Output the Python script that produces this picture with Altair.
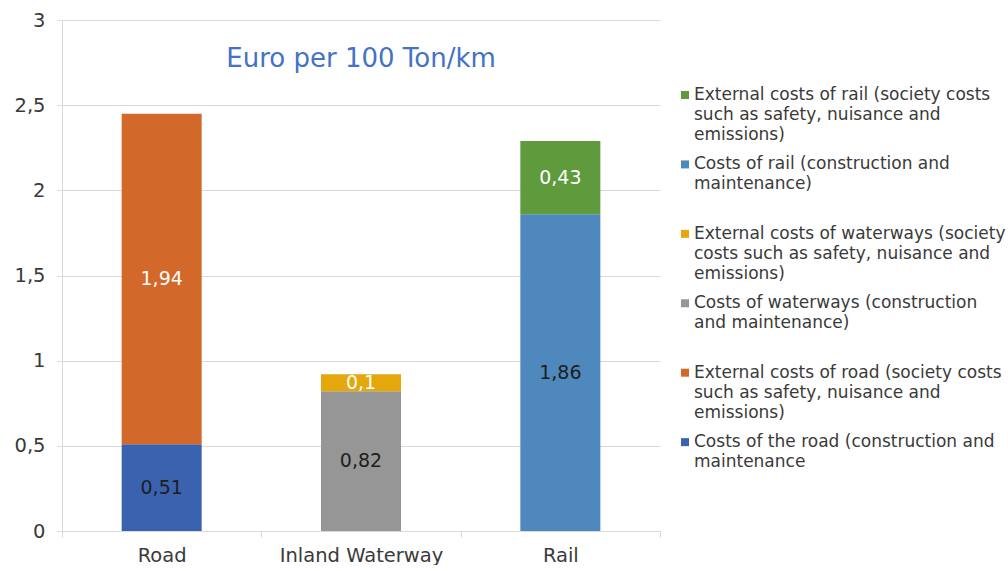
import altair as alt
import pandas as pd

# ---- data ----
categories = ["Road", "Inland Waterway", "Rail"]
modes = ["Road", "Road", "Inland Waterway", "Inland Waterway", "Rail", "Rail"]
series = [
    "Costs of the road (construction and maintenance",
    "External costs of road (society costs such as safety, nuisance and emissions)",
    "Costs of waterways (construction and maintenance)",
    "External costs of waterways (society costs such as safety, nuisance and emissions)",
    "Costs of rail (construction and maintenance)",
    "External costs of rail (society costs such as safety, nuisance and emissions)",
]
values = [0.51, 1.94, 0.82, 0.1, 1.86, 0.43]
stack_order = [0, 1, 0, 1, 0, 1]
colors = ["#3A62AE", "#D2692A", "#969696", "#E4A80C", "#4F88BC", "#5F9A3D"]
label_colors = ["#1E1E1E", "#FFFFFF", "#1E1E1E", "#FFFFFF", "#1E1E1E", "#FFFFFF"]

# legend (top to bottom), lines separated by "|"
legend_series = [series[5], series[4], series[3], series[2], series[1], series[0]]
legend_text = [
    "External costs of rail (society costs|such as safety, nuisance and|emissions)",
    "Costs of rail (construction and|maintenance)",
    "External costs of waterways (society|costs such as safety, nuisance and|emissions)",
    "Costs of waterways (construction|and maintenance)",
    "External costs of road (society costs|such as safety, nuisance and|emissions)",
    "Costs of the road (construction and|maintenance",
]

FONT = "DejaVu Sans"

df = pd.DataFrame({
    "mode": modes, "series": series, "value": values,
    "order": stack_order, "lc": label_colors,
})
df["start"] = df.groupby("mode")["value"].cumsum() - df["value"]
df["mid"] = df["start"] + df["value"] / 2
df["label"] = df["value"].map(lambda v: f"{v:g}".replace(".", ","))

color_scale = alt.Scale(domain=series, range=colors)
x_scale = alt.Scale(domain=categories, paddingInner=0, paddingOuter=0)

base = alt.Chart(df)

bars = base.mark_bar(size=80).encode(
    x=alt.X("mode:N", sort=categories, title=None, scale=x_scale,
            axis=alt.Axis(labelAngle=0, tickBand="extent", labelFontSize=19.5,
                          labelPadding=9, tickSize=6, domainColor="#D9D9D9",
                          tickColor="#D9D9D9", labelColor="#3A3A3A", labelFont=FONT)),
    y=alt.Y("value:Q", stack="zero", title=None,
            scale=alt.Scale(domain=[0, 3], nice=False),
            axis=alt.Axis(values=[0, 0.5, 1, 1.5, 2, 2.5, 3],
                          labelExpr="replace(toString(datum.value), '.', ',')",
                          labelFontSize=19.5, labelColor="#3A3A3A", labelFont=FONT,
                          gridColor="#D9D9D9", tickColor="#D9D9D9", tickSize=5,
                          domainColor="#D9D9D9", labelPadding=12,
                          minExtent=50, maxExtent=50)),
    color=alt.Color("series:N", scale=color_scale, legend=None),
    order=alt.Order("order:Q"),
)

labels = base.mark_text(fontSize=19, font=FONT, baseline="middle").encode(
    x=alt.X("mode:N", sort=categories, scale=x_scale),
    y=alt.Y("mid:Q"),
    text="label:N",
    color=alt.Color("lc:N", scale=None),
)

main = alt.layer(bars, labels).properties(
    width=598, height=511,
    title=alt.TitleParams("Euro per 100 Ton/km", color="#4472C4", fontSize=26,
                          fontWeight="normal", font=FONT, anchor="middle",
                          offset=-62),
)

leg_df = pd.DataFrame({
    "idx": list(range(len(legend_series))),
    "series": legend_series,
    "text": legend_text,
})

leg_base = alt.Chart(leg_df).encode(
    y=alt.Y("idx:Q", axis=None,
            scale=alt.Scale(domain=[-1.08, 6.28], reverse=True, nice=False, zero=False)),
)
leg_sq = leg_base.mark_square(size=64, opacity=1).encode(
    x=alt.value(14),
    color=alt.Color("series:N", scale=color_scale, legend=None),
)
leg_txt = leg_base.transform_calculate(
    lines="split(datum.text, '|')"
).mark_text(align="left", baseline="middle", fontSize=17, font=FONT,
            lineHeight=20, color="#3A3A3A").encode(
    x=alt.value(23),
    text="lines:N",
)
legend = alt.layer(leg_sq, leg_txt).properties(width=330, height=511)

chart = alt.hconcat(main, legend, spacing=10).properties(
    padding={"left": 12, "top": 10, "right": 0, "bottom": 0},
    background="white",
).configure_view(stroke=None)

chart.save("out.html", embed_options={"renderer": "svg", "actions": False})
